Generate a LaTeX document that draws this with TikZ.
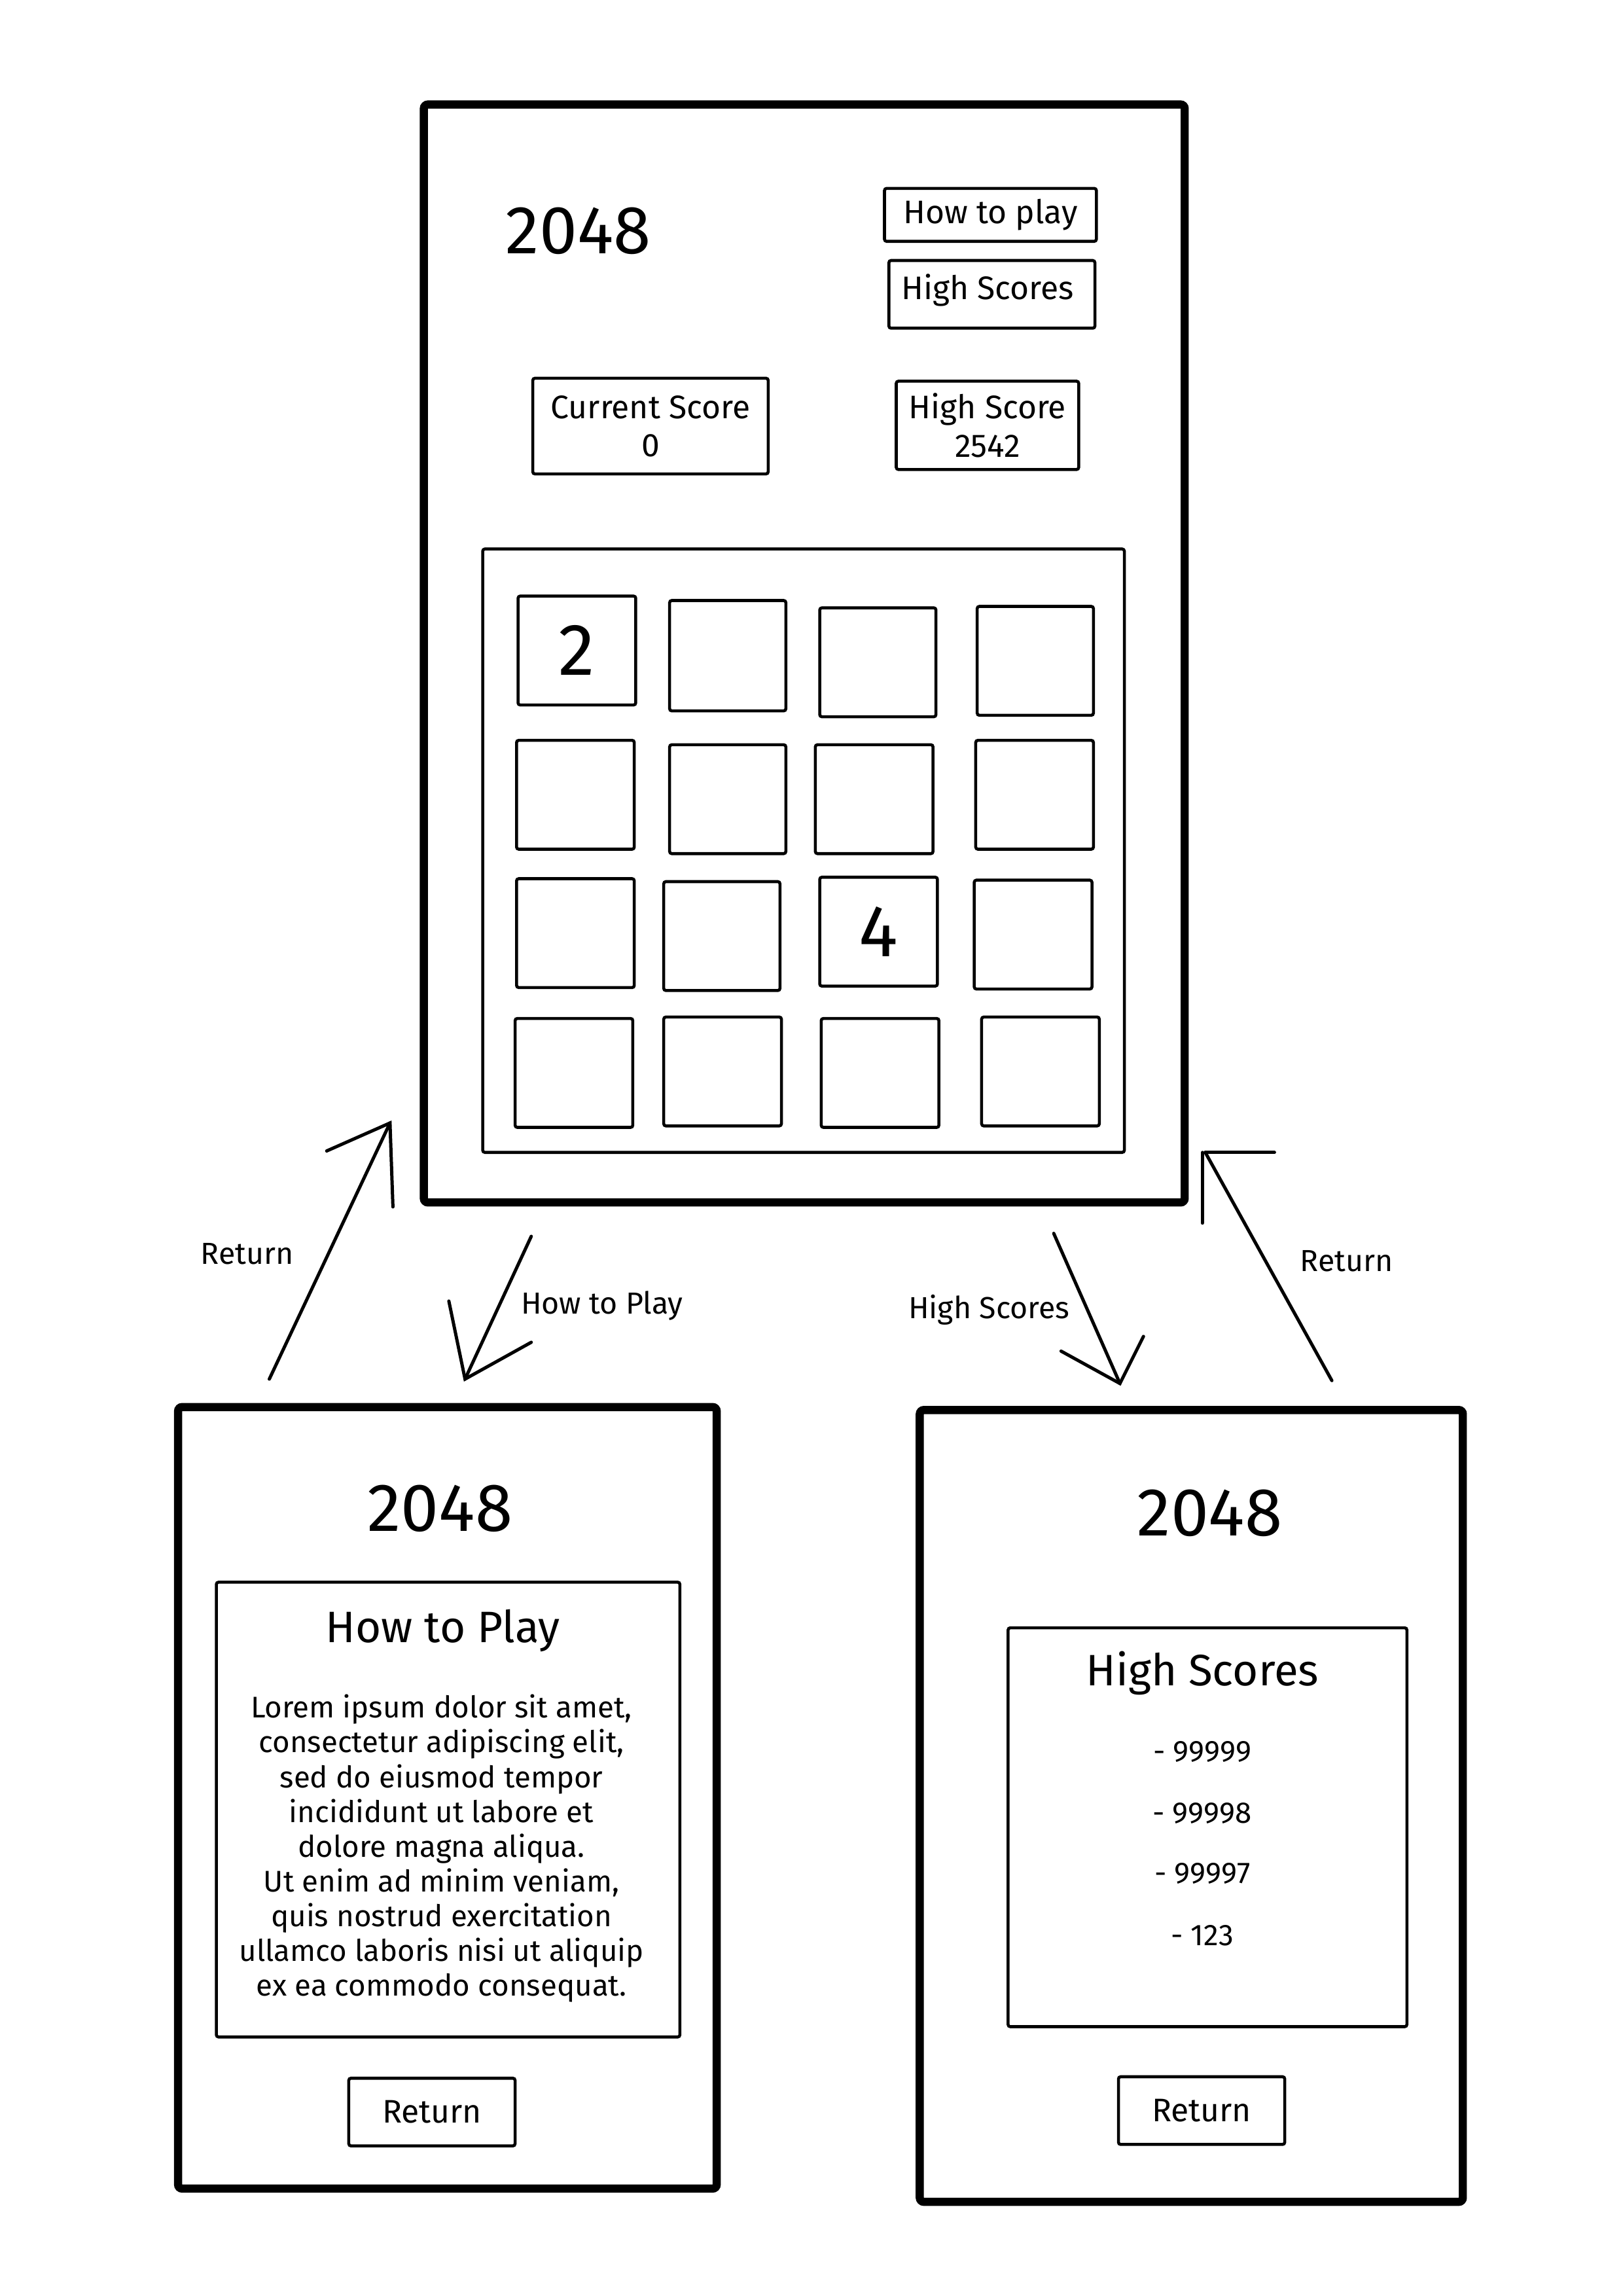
\documentclass[tikz,border=0pt]{standalone}
\usepackage{fontspec}
\setmainfont{Fira Sans}
\usetikzlibrary{fit}
\begin{document}
\begin{tikzpicture}[x=0.190385mm,y=-0.190385mm,
  frame/.style={draw,line width=3pt,rounded corners=1.5pt,inner sep=0pt},
  thinbox/.style={draw,line width=1.1pt,rounded corners=0.8pt,inner sep=0pt},
  tile/.style={draw,line width=1.1pt,rounded corners=0.8pt,inner sep=0pt},
  conn/.style={line width=1.2pt,line cap=round},
  title/.style={font=\fontsize{25}{30}\selectfont},
  btn/.style={font=\fontsize{12}{14}\selectfont,align=center},
  score/.style={font=\fontsize{11}{13}\selectfont},
  head/.style={font=\fontsize{16.2}{19}\selectfont},
  lbl/.style={font=\fontsize{11.2}{13}\selectfont},
  num/.style={font=\fontsize{27}{32}\selectfont}]
\useasboundingbox (0,0) rectangle (1102.6,1560);
\fill[white] (0,0) rectangle (1102.6,1560);

% ---------- main screen ----------
\node[frame,fit={(288,71)(805,817)}] (main) {};
\node[title] (t1) at (393,157) {2048};
\node[thinbox,fit={(601,128)(745,164)}] (bhow) {};
\node[btn] at (bhow.center) {How to play};
\node[thinbox,fit={(604,177)(744,223)}] (bhigh) {};
\node[btn] at (671,197) {High Scores};
\node[thinbox,fit={(362,257)(522,322)}] (cur) {};
\node[btn] at (cur.center) {Current Score\\0};
\node[thinbox,fit={(609,259)(733,319)}] (hs) {};
\node[btn] at (hs.center) {High Score\\2542};

\node[thinbox,fit={(328,373)(764,783)}] (grid) {};
% row 1
\node[tile,fit={(352,405)(432,479)}] (g11) {};
\node[num] at (g11.center) {2};
\node[tile,fit={(455,408)(534,483)}] (g12) {};
\node[tile,fit={(557,413)(636,487)}] (g13) {};
\node[tile,fit={(664,412)(743,486)}] (g14) {};
% row 2
\node[tile,fit={(351,503)(431,577)}] (g21) {};
\node[tile,fit={(455,506)(534,580)}] (g22) {};
\node[tile,fit={(554,506)(634,580)}] (g23) {};
\node[tile,fit={(663,503)(743,577)}] (g24) {};
% row 3
\node[tile,fit={(351,597)(431,671)}] (g31) {};
\node[tile,fit={(451,599)(530,673)}] (g32) {};
\node[tile,fit={(557,596)(637,670)}] (g33) {};
\node[num] at (g33.center) {4};
\node[tile,fit={(662,598)(742,672)}] (g34) {};
% row 4
\node[tile,fit={(350,692)(430,766)}] (g41) {};
\node[tile,fit={(451,691)(531,765)}] (g42) {};
\node[tile,fit={(558,692)(638,766)}] (g43) {};
\node[tile,fit={(667,691)(747,765)}] (g44) {};

% ---------- how to play screen ----------
\node[frame,fit={(121,956)(487,1487)}] (howscr) {};
\node[title] at (299,1025) {2048};
\node[thinbox,fit={(147,1075)(462,1384)}] (howbox) {};
\node[head] at (301,1108) {How to Play};
\node[align=center,font=\fontsize{11}{12.8}\selectfont] at (300,1256)
 {Lorem ipsum dolor sit amet,\\consectetur adipiscing elit,\\sed do eiusmod tempor\\incididunt ut labore et\\dolore magna aliqua.\\Ut enim ad minim veniam,\\quis nostrud exercitation\\ullamco laboris nisi ut aliquip\\ex ea commodo consequat.};
\node[thinbox,fit={(237,1412)(350,1458)}] (ret1) {};
\node[btn] at (ret1.center) {Return};

% ---------- high scores screen ----------
\node[frame,fit={(625,958)(994,1496)}] (hsscr) {};
\node[title] at (822,1028) {2048};
\node[thinbox,fit={(685,1106)(956,1377)}] (hsbox) {};
\node[head] at (817,1137) {High Scores};
\node[score] at (817,1190) {- 99999};
\node[score] at (817,1232) {- 99998};
\node[score] at (817,1273) {- 99997};
\node[score] at (817,1315) {- 123};
\node[thinbox,fit={(760,1411)(873,1457)}] (ret2) {};
\node[btn] at (ret2.center) {Return};

% ---------- connectors ----------
% left return
\coordinate (r1s) at (183,937);
\coordinate (r1t) at (265,763);
\coordinate (r1a) at (222,782);
\coordinate (r1b) at (267,820);
\draw[conn] (r1s) -- (r1t);
\draw[conn] (r1a) -- (r1t) -- (r1b);
\node[lbl] at (168,852) {Return};
% how to play
\coordinate (h1s) at (361,840);
\coordinate (h1t) at (316,937);
\coordinate (h1a) at (305,884);
\coordinate (h1b) at (361,912);
\draw[conn] (h1s) -- (h1t);
\draw[conn] (h1a) -- (h1t) -- (h1b);
\node[lbl] at (409,887) {How to Play};
% high scores
\coordinate (s1s) at (716,838);
\coordinate (s1t) at (761,940);
\coordinate (s1a) at (721,918);
\coordinate (s1b) at (777,908);
\draw[conn] (s1s) -- (s1t);
\draw[conn] (s1a) -- (s1t) -- (s1b);
\node[lbl] at (672,890) {High Scores};
% right return
\coordinate (r2s) at (905,938);
\coordinate (r2t) at (819,783);
\coordinate (r2a) at (866,783);
\coordinate (r2b) at (817,831);
\draw[conn] (r2s) -- (r2t);
\draw[conn] (r2a) -- (r2t);
\draw[conn] (817,783) -- (r2b);
\node[lbl] at (915,857) {Return};
\end{tikzpicture}
\end{document}
